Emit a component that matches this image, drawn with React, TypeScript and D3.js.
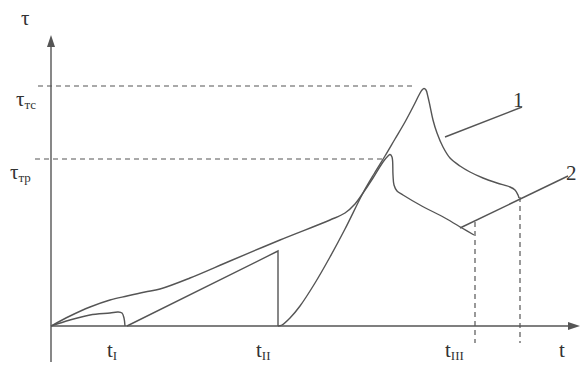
import React from "react";
import * as d3 from "d3";

// data (t, τ) in arbitrary units
const smallT = [0, 3.8, 7.8, 11.8, 13.4, 14.2, 14.6, 14.8];
const smallTau = [0, 2.4, 4.4, 5.2, 5.6, 5.2, 3.2, 0];

const triT = [15.2, 45.4, 45.4];
const triTau = [0, 30, 0];

const c2T = [0, 3.8, 7.8, 11.8, 15.2, 18.8, 21.8, 27.8, 35.8, 45.8, 55.8, 58.8, 60.8, 62.4, 64.4, 66.4, 67.4, 67.8, 68.2, 68.4, 68.6, 69.2, 70.4, 73.8, 78.8, 82.2, 84.6];
const c2Tau = [0, 4, 7.6, 10.4, 12, 13.6, 14.8, 19.2, 26, 34.4, 42.4, 45.2, 48.8, 53.2, 59.2, 65.6, 68, 68.6, 67.6, 60.4, 56.4, 54, 52.4, 48.4, 43.2, 39.2, 36.4];

const c1T = [45.4, 46.2, 47.8, 49.8, 52.8, 55.8, 58.8, 62.4, 64.6, 66.8, 68.8, 70.8, 72.6, 73.6, 74.2, 74.6, 75, 75.4, 75.8, 76.4, 77.2, 78.4, 79.8, 81.8, 83.8, 86.4, 89.2, 91.8, 92.8, 93.4, 93.6];
const c1Tau = [0, 0.4, 3.2, 8, 17.2, 27.6, 38.8, 53.2, 60.8, 68, 74.8, 81.6, 88.4, 92.4, 94.4, 95, 94.4, 91.6, 88, 82.4, 77.2, 71.6, 67.2, 64, 61.6, 59.2, 57.2, 55.6, 54.4, 52.4, 51.2];

const leader1T = [78.8, 94.2];
const leader1Tau = [75.6, 87.6];
const leader2T = [81.8, 103.4];
const leader2Tau = [39.2, 60];

const tauTC = 96;
const tauTR = 66.8;
const tTC_end = 72.8;
const tTR_end = 66.4;
const tIII = 84.8;
const tEnd = 93.8;
const tIII_top = 41.6;
const tEnd_top = 51.6;

const W = 581;
const H = 365;

export default function App() {
  const x = d3.scaleLinear().domain([0, 100]).range([51, 551]);
  const y = d3.scaleLinear().domain([0, 100]).range([326, 76]);
  const line = d3
    .line<[number, number]>()
    .x((d) => x(d[0]))
    .y((d) => y(d[1]))
    .curve(d3.curveCatmullRom.alpha(0.5));
  const straight = d3
    .line<[number, number]>()
    .x((d) => x(d[0]))
    .y((d) => y(d[1]));
  const zip = (a: number[], b: number[]) => a.map((v, i) => [v, b[i]] as [number, number]);

  const stroke = "#555";
  const sw = 1.4;
  const font = "Liberation Serif, DejaVu Serif, serif";
  const txt = "#333";

  return (
    <svg width={W} height={H} style={{ position: "absolute", left: 0, top: 0, background: "#fff" }}>
      {/* axes */}
      <line x1={x(0)} y1={362} x2={x(0)} y2={44} stroke={stroke} strokeWidth={sw} />
      <polygon points={`${x(0)},35 ${x(0) - 4},47 ${x(0) + 4},47`} fill={stroke} />
      <line x1={x(0)} y1={y(0)} x2={571} y2={y(0)} stroke={stroke} strokeWidth={sw} />
      <polygon points={`580,${y(0)} 568,${y(0) - 4} 568,${y(0) + 4}`} fill={stroke} />

      {/* dashed reference lines */}
      <line x1={38} y1={y(tauTC)} x2={x(tTC_end)} y2={y(tauTC)} stroke={stroke} strokeWidth={1.2} strokeDasharray="5,4" />
      <line x1={35} y1={y(tauTR)} x2={x(tTR_end)} y2={y(tauTR)} stroke={stroke} strokeWidth={1.2} strokeDasharray="5,4" />
      <line x1={x(tIII)} y1={y(tIII_top)} x2={x(tIII)} y2={343} stroke={stroke} strokeWidth={1.2} strokeDasharray="5,4" />
      <line x1={x(tEnd)} y1={y(tEnd_top)} x2={x(tEnd)} y2={343} stroke={stroke} strokeWidth={1.2} strokeDasharray="5,4" />

      {/* curves */}
      <path d={line(zip(smallT, smallTau)) || ""} fill="none" stroke={stroke} strokeWidth={sw} />
      <path d={straight(zip(triT, triTau)) || ""} fill="none" stroke={stroke} strokeWidth={sw} />
      <path d={line(zip(c2T, c2Tau)) || ""} fill="none" stroke={stroke} strokeWidth={sw} />
      <path d={line(zip(c1T, c1Tau)) || ""} fill="none" stroke={stroke} strokeWidth={sw} />
      <path d={straight(zip(leader1T, leader1Tau)) || ""} fill="none" stroke={stroke} strokeWidth={sw} />
      <path d={straight(zip(leader2T, leader2Tau)) || ""} fill="none" stroke={stroke} strokeWidth={sw} />

      {/* labels */}
      <g style={{ fontFamily: font }} fill={txt}>
        <text x={21} y={25} fontSize={21}>τ</text>
        <text x={16} y={106} fontSize={21}>τ<tspan fontSize={13} dy={3}>тс</tspan></text>
        <text x={10} y={179} fontSize={21}>τ<tspan fontSize={13} dy={3}>тр</tspan></text>
        <text x={107} y={357} fontSize={21}>t<tspan fontSize={13} dy={3}>I</tspan></text>
        <text x={256} y={357} fontSize={21}>t<tspan fontSize={13} dy={3}>II</tspan></text>
        <text x={445} y={357} fontSize={21}>t<tspan fontSize={13} dy={3}>III</tspan></text>
        <text x={559} y={357} fontSize={21}>t</text>
        <text x={513} y={107} fontSize={21}>1</text>
        <text x={566} y={180} fontSize={21}>2</text>
      </g>
    </svg>
  );
}
